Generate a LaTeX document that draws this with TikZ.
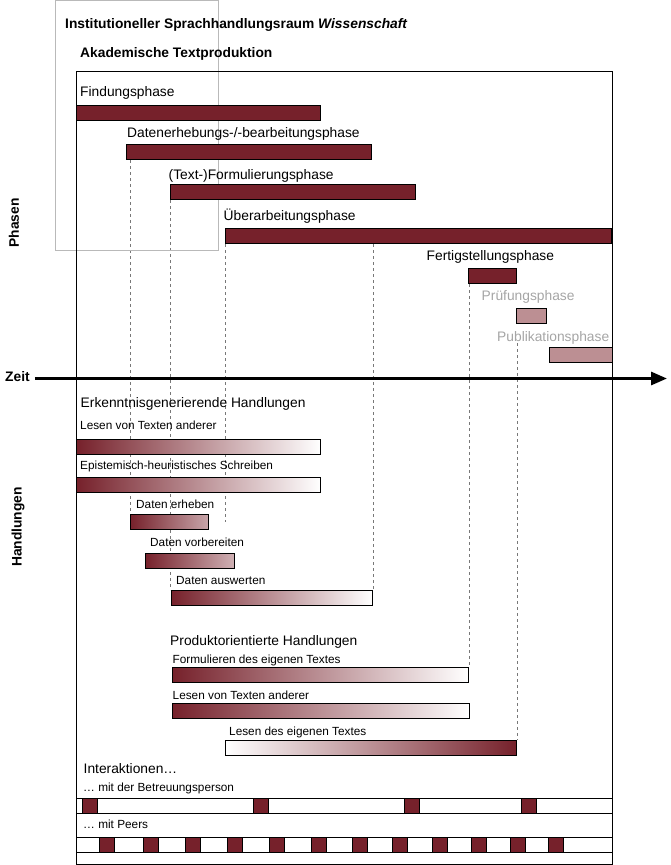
\documentclass[tikz,border=0pt]{standalone}
\usepackage{fontspec}
\setmainfont{Liberation Sans}
\usetikzlibrary{arrows.meta,positioning,backgrounds}

\definecolor{barred}{RGB}{118,33,43}
\definecolor{barpink}{RGB}{188,143,147}
\definecolor{labelgray}{RGB}{165,165,165}
\definecolor{framegray}{RGB}{185,185,185}
\definecolor{dashgray}{RGB}{120,120,120}

\begin{document}
\begin{tikzpicture}
	[x=1pt,y=-1pt,
		phase bar/.style={draw=black,fill=barred,line width=1pt,minimum height=15pt,inner sep=0pt,anchor=north west},
		late bar/.style={phase bar,fill=barpink},
		act bar/.style={draw=black,line width=0.9pt,left color=barred,right color=white,minimum height=15pt,inner sep=0pt,anchor=north west},
		big text/.style={font=\fontsize{13.8}{16}\selectfont,inner sep=0pt,anchor=west,text height=0.73em,text depth=0.21em,yshift=-2.5pt},
		small text/.style={font=\fontsize{11.8}{14}\selectfont,inner sep=0pt,anchor=west,text height=0.73em,text depth=0.21em,yshift=-2.5pt},
		head text/.style={font=\fontsize{13.8}{16}\selectfont\bfseries,inner sep=0pt},
		guide/.style={draw=dashgray,line width=0.7pt,dash pattern=on 3pt off 3pt},
		meeting/.style={draw=black,fill=barred,line width=0.8pt,minimum width=15pt,minimum height=15pt,inner sep=0pt,anchor=north west},
		track/.style={draw=black,line width=1pt}]

	\useasboundingbox (0,0) rectangle (671,865);

	% frames
	\draw[framegray,line width=0.9pt] (55,0.6) rectangle (218,250);
	\draw[black,line width=1pt] (76,71) rectangle (612,864);

	\node[head text,anchor=west] (title) at (65,25) {Institutioneller Sprachhandlungsraum \textit{Wissenschaft}};
	\node[head text,anchor=west] (atp)   at (80,54) {Akademische Textproduktion};

	\node[head text,rotate=90] (phasen) at (14,223) {Phasen};
	\node[head text,rotate=90] (handl)  at (18,527) {Handlungen};

	% phases
	\node[phase bar,minimum width=244] (P1) at (76,105)  {};
	\node[phase bar,minimum width=245] (P2) at (126,144) {};
	\node[phase bar,minimum width=245] (P3) at (170,184) {};
	\node[phase bar,minimum width=386] (P4) at (225,228) {};
	\node[phase bar,minimum width=48]  (P5) at (468,268) {};
	\node[late bar,minimum width=30]   (P6) at (516,308) {};
	\node[late bar,minimum width=63]   (P7) at (549,347) {};

	\node[big text] (L1) at (80,91.5)   {Findungsphase};
	\node[big text] (L2) at (127,132)   {Datenerhebungs-/-bearbeitungsphase};
	\node[big text] (L3) at (168.5,174) {(Text-)Formulierungsphase};
	\node[big text] (L4) at (223.5,215) {Überarbeitungsphase};
	\node[big text] (L5) at (426.5,255) {Fertigstellungsphase};
	\node[big text,text=labelgray] (L6) at (481.5,295) {Prüfungsphase};
	\node[big text,text=labelgray] (L7) at (497,336)   {Publikationsphase};

	% time
	\node[head text,anchor=west] (Z) at (5,377) {Zeit};
	\coordinate (Zend) at (667,378.5);
	\draw[line width=3pt,-{Triangle[length=16pt,width=13pt]},shorten <=5pt] (Z.east |- Zend) -- (Zend);

	% actions
	\node[big text]   (H1) at (80.5,402.5) {Erkenntnisgenerierende Handlungen};
	\node[small text] (H2) at (80,424)     {Lesen von Texten anderer};
	\node[act bar,minimum width=244] (A1) at (76,439) {};
	\node[small text] (H3) at (80,464)     {Epistemisch-heuristisches Schreiben};
	\node[act bar,minimum width=244] (A2) at (76,477) {};
	\node[small text] (H4) at (136,503)    {Daten erheben};
	\node[act bar,minimum width=78,right color=barred!40] (A3) at (130,514) {};
	\node[small text] (H5) at (150,541)    {Daten vorbereiten};
	\node[act bar,minimum width=89,right color=barred!35] (A4) at (145,553) {};
	\node[small text] (H6) at (176,579)    {Daten auswerten};
	\node[act bar,minimum width=201] (A5) at (171,590) {};

	\node[big text]   (H7)  at (170,640.5) {Produktorientierte Handlungen};
	\node[small text] (H8)  at (172.5,658) {Formulieren des eigenen Textes};
	\node[act bar,minimum width=296] (B1) at (172,667) {};
	\node[small text] (H9)  at (172.5,694) {Lesen von Texten anderer};
	\node[act bar,minimum width=297] (B2) at (172,703) {};
	\node[small text] (H10) at (229,730)   {Lesen des eigenen Textes};
	\node[act bar,minimum width=291,left color=white,right color=barred] (B3) at (225,740) {};

	% guides behind the bars
	\begin{scope}[on background layer]
		\draw[guide] (A3.north west |- P2.south) -- (A3.north west);
		\draw[guide] (P3.south west) -- (P3.south west |- A5.north);
		\draw[guide] (P4.south west) -- (P4.south west |- A3.east);
		\draw[guide] (A5.north east |- P4.south) -- (A5.north east);
		\draw[guide] (B1.north east |- P5.south) -- (B1.north east);
		\draw[guide] (B3.north east |- L7.south) -- (B3.north east);
	\end{scope}

	% interactions
	\node[big text]   (I0) at (83.5,768) {Interaktionen\dots};
	\node[small text] (I1) at (83,786)   {\dots\ mit der Betreuungsperson};
	\draw[track] (76,798) rectangle (612,813);
	\foreach \x [count=\i] in {82,253,404,521}
		\node[meeting] (m\i) at (\x,798) {};
	\node[small text] (I2) at (83,823)   {\dots\ mit Peers};
	\draw[track] (76,837) rectangle (612,852);
	\foreach \x [count=\i] in {99,143,185,227,269,311,352,392,432,471,510,548}
		\node[meeting] (p\i) at (\x,837) {};

\end{tikzpicture}
\end{document}
